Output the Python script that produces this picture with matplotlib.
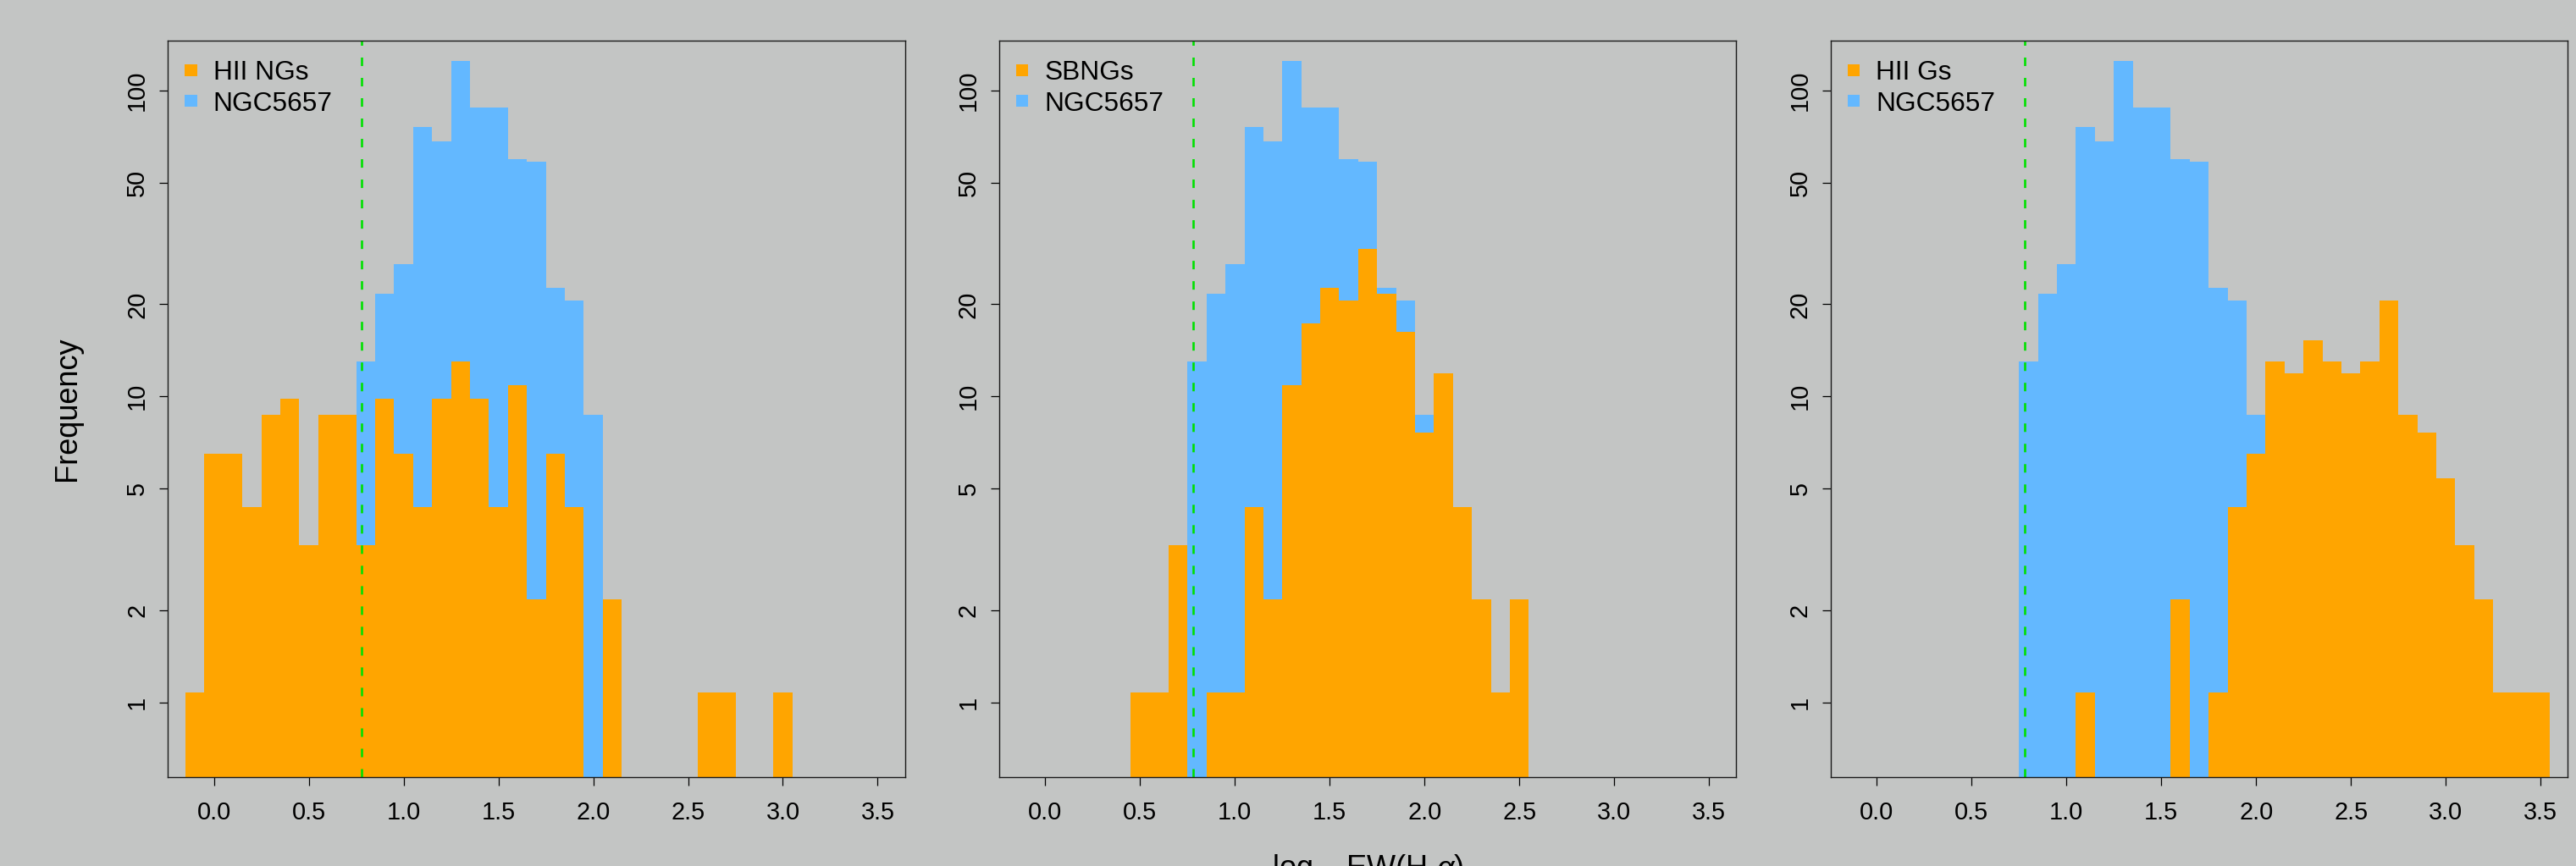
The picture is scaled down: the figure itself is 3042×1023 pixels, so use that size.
import numpy as np
import matplotlib.pyplot as plt
from matplotlib.patches import Patch

plt.rcParams['font.family'] = ['Liberation Sans', 'DejaVu Sans']
plt.rcParams['mathtext.fontset'] = 'custom'
plt.rcParams['mathtext.rm'] = 'Liberation Sans'
plt.rcParams['mathtext.it'] = 'Liberation Sans:italic'

# histogram bins in log EW(Halpha), width 0.1, edges -0.15 ... 3.55
bin_edges = np.linspace(-0.15, 3.55, 38)

# frequencies per bin (centres -0.1 ... 3.5)
ngc5657 = [0, 0, 0, 0, 0, 0, 0, 0, 0,
           13.0, 21.7, 27.1, 75.7, 68.0, 125, 88, 88, 59.5, 58.5, 22.7, 20.6, 8.7,
           0, 0, 0, 0, 0, 0, 0, 0, 0, 0, 0, 0, 0, 0, 0]
hii_ngs = [1.08, 6.5, 6.5, 4.35, 8.7, 9.8, 3.26, 8.7, 8.7,
           3.26, 9.8, 6.5, 4.35, 9.8, 13.0, 9.8, 4.35, 10.85, 2.17, 6.5, 4.35, 0,
           2.17, 0, 0, 0, 0, 1.08, 1.08, 0, 0, 1.08, 0, 0, 0, 0, 0]
sbngs = [0, 0, 0, 0, 0, 0, 1.08, 1.08, 3.26,
         0, 1.08, 1.08, 4.35, 2.17, 10.85, 17.35, 22.7, 20.6, 30.3, 21.7, 16.2, 7.6,
         11.9, 4.35, 2.17, 1.08, 2.17, 0, 0, 0, 0, 0, 0, 0, 0, 0, 0]
hii_gs = [0, 0, 0, 0, 0, 0, 0, 0, 0,
          0, 0, 0, 1.08, 0, 0, 0, 0, 2.17, 0, 1.08, 4.35, 6.5,
          13.0, 11.9, 15.2, 13.0, 11.9, 13.0, 20.6, 8.7, 7.6, 5.4, 3.26, 2.17, 1.08, 1.08, 1.08]

samples = [hii_ngs, sbngs, hii_gs]
sample_names = ["HII NGs", "SBNGs", "HII Gs"]
ew_cut = 0.78

xticks = [0.0, 0.5, 1.0, 1.5, 2.0, 2.5, 3.0, 3.5]
xtick_labels = ["0.0", "0.5", "1.0", "1.5", "2.0", "2.5", "3.0", "3.5"]
yticks = [1, 2, 5, 10, 20, 50, 100]
ytick_labels = ["1", "2", "5", "10", "20", "50", "100"]

bg = "#C3C5C4"
orange = "#FFA500"
blue = "#63B8FF"
green = "#00E000"

fig = plt.figure(figsize=(30.42, 10.23), dpi=100, facecolor=bg)

lefts = [0.06509, 0.38781, 0.71059]
for i in range(3):
    ax = fig.add_axes([lefts[i], 0.10264, 0.28623, 0.85073])
    ax.set_facecolor(bg)
    ax.set_yscale('log')
    ax.stairs(ngc5657, bin_edges, fill=True, color=blue, baseline=0, lw=0)
    ax.stairs(samples[i], bin_edges, fill=True, color=orange, baseline=0, lw=0)
    ax.axvline(ew_cut, color=green, lw=1.9, linestyle=(0, (3.8, 5.3)))

    ax.set_xlim(-0.244, 3.644)
    ax.set_ylim(0.570, 145.6)
    ax.set_xticks(xticks)
    ax.set_xticklabels(xtick_labels)
    ax.set_yticks(yticks)
    ax.set_yticklabels(ytick_labels, rotation=90, va='center')
    ax.minorticks_off()
    ax.tick_params(direction='out', length=7.4, width=0.9, labelsize=20.8, colors='black')
    ax.tick_params(axis='x', pad=13)
    ax.tick_params(axis='y', pad=8.3)
    for sp in ax.spines.values():
        sp.set_linewidth(1.0)
        sp.set_color('#1a1a1a')

    handles = [Patch(facecolor=orange, lw=0, label=sample_names[i]),
               Patch(facecolor=blue, lw=0, label="NGC5657")]
    ax.legend(handles=handles, loc='upper left', bbox_to_anchor=(0.0233, 0.973),
              frameon=False, fontsize=22.8, handlelength=0.454, handleheight=0.32,
              handletextpad=0.6, labelspacing=0.2, borderpad=0, borderaxespad=0)

fig.text(0.02936, 0.5279, "Frequency", rotation=90, rotation_mode='anchor',
         ha='center', va='baseline', fontsize=26)
fig.text(0.5309, -0.0127, r'$\mathrm{log}_{10}\ \mathrm{EW(H}\ \alpha\mathrm{)}$',
         ha='center', va='baseline', fontsize=26)

fig.savefig("out.png", dpi=100, facecolor=bg)
